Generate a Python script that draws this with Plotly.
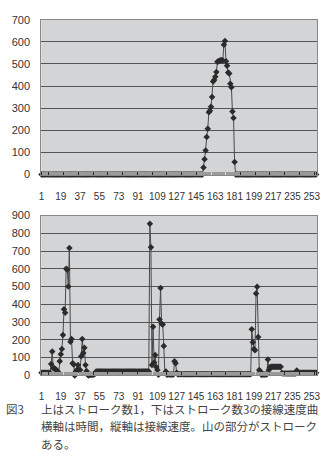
import plotly.graph_objects as go

N = 257
categories = list(range(1, N + 1))
tick_labels = list(range(1, 254, 18))

# Top chart (stroke count 1): zero except the single peak
top_peak_start = 152
top_peak_values = [32, 69, 109, 170, 207, 282, 288, 307, 350, 421, 427, 442, 464,
                   510, 512, 514, 517, 517, 515, 587, 603, 512, 492, 461, 457,
                   410, 395, 285, 256, 57, 0]
top_values = [0] * N
for i, v in enumerate(top_peak_values):
    top_values[top_peak_start - 1 + i] = v

# Bottom chart (stroke count 3), segments of (start category, values)
bottom_segments = [
    (1, [15] * 9),
    (10, [64, 135, 40, 40, 35, 31, 22, 16, 80, 119, 148, 227, 373, 353, 600, 595,
          500, 717, 190, 205, 68, 62, 0, 22, 31, 58, 31, 31, 108, 205, 126, 155,
          58, 25, 4, 0, 3, 3, 3, 4, 5, 10]),
    (52, [22] * 50),
    (102, [854, 722, 58, 274, 73, 115, 47, 31, 4, 315, 492, 291, 287, 166, 13,
           22, 4, 5, 5, 5, 5, 5, 5, 79, 68, 15]),
    (128, [7] * 69),
    (197, [260, 187, 148, 141, 461, 499, 216, 31, 22, 4, 5, 5, 5, 5, 5, 90, 31, 46]),
    (215, [48] * 10),
    (225, [13] + [10] * 13 + [27]),
    (240, [15] * 18),
]
bottom_values = [0] * N
for start, vals in bottom_segments:
    for i, v in enumerate(vals):
        if start - 1 + i < N:
            bottom_values[start - 1 + i] = v

top_yticks = list(range(0, 701, 100))
bottom_yticks = list(range(0, 901, 100))

W, H = 325, 473
def px_x(p):
    return p / W
def px_y(p):
    return 1 - p / H

line_col = "#4a4a4a"
marker_col = "#2b2b2b"
plot_bg = "#d3d4d6"
grid_col = "#555555"
tick_font = dict(family="Liberation Sans, Arial, sans-serif", size=10, color="#333333")

fig = go.Figure()
for vals, xa, ya in [(top_values, "x", "y"), (bottom_values, "x2", "y2")]:
    fig.add_trace(go.Scatter(
        x=categories, y=vals, xaxis=xa, yaxis=ya, mode="lines+markers",
        line=dict(color=line_col, width=1),
        marker=dict(symbol="diamond", size=5, color=marker_col),
        cliponaxis=False, showlegend=False, hoverinfo="skip"))

xcommon = dict(range=[0.8, 257.9], tickmode="array", tickvals=tick_labels,
               ticktext=[str(t) for t in tick_labels], tickangle=0,
               ticks="inside", ticklen=3,
               tickcolor="#9a9a9a", showgrid=False, zeroline=False,
               showline=True, linecolor="#888888", mirror=True,
               tickfont=tick_font, ticklabelstandoff=12,
               minor=dict(tickmode="linear", tick0=1, dtick=1, ticks="inside",
                          ticklen=3, tickcolor="#9a9a9a"),
               domain=[px_x(39), px_x(320)])
ycommon = dict(showgrid=True, gridcolor=grid_col, gridwidth=1, zeroline=False,
               showline=True, linecolor="#888888", mirror=True, ticks="",
               tickfont=dict(tick_font, size=11), ticklabelstandoff=8, tickmode="array")

fig.update_layout(
    width=W, height=H, margin=dict(l=0, r=0, t=0, b=0),
    paper_bgcolor="white", plot_bgcolor=plot_bg,
    xaxis=dict(**xcommon, anchor="y"),
    yaxis=dict(**ycommon, range=[0, 700], tickvals=top_yticks,
               domain=[px_y(173), px_y(14)], anchor="x"),
    xaxis2=dict(**xcommon, anchor="y2"),
    yaxis2=dict(**ycommon, range=[0, 900], tickvals=bottom_yticks,
                domain=[px_y(379), px_y(215)], anchor="x2"),
)

cap_font = dict(family="Noto Sans CJK JP", size=11.5, color="#444444")
captions = [
    (1, 413, "図3"),
    (37, 413, "上はストローク数1，下はストローク数3の接線速度曲"),
    (37, 431, "横軸は時間，縦軸は接線速度。山の部分がストローク"),
    (37, 449, "ある。"),
]
for x, y, t in captions:
    fig.add_annotation(text=t, xref="paper", yref="paper", x=px_x(x), y=px_y(y),
                       xanchor="left", yanchor="middle", showarrow=False, font=cap_font)

fig.write_html("out.html")
